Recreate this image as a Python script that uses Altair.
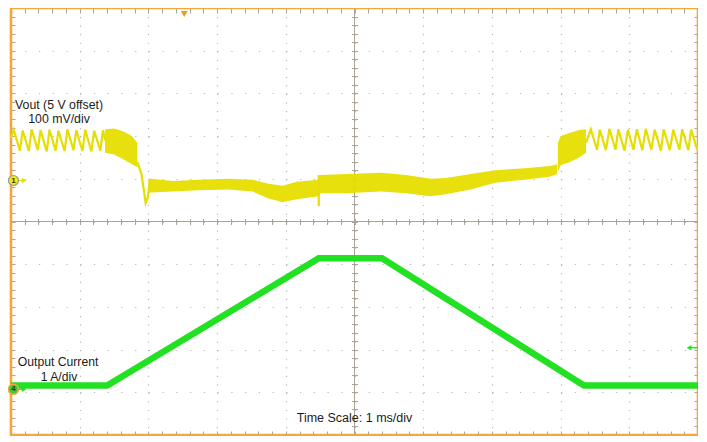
import altair as alt
import pandas as pd

# ------------------------------------------------------------------
# Values
# time in ms (1 ms/div, 0 = screen centre)
# Vout: deviation from the 5 V offset, mV (100 mV/div, ch1 marker at +1 div)
# Iout: amperes (1 A/div, ch4 marker at -4 div)
# ------------------------------------------------------------------
iout_t = [-5.00, -3.60, -0.52, 0.40, 3.34, 5.00]
iout_a = [0.16, 0.16, 3.14, 3.14, 0.16, 0.16]

saw_left_t = [-5.00, -4.96, -4.87, -4.83, -4.74, -4.70, -4.61, -4.57, -4.48, -4.44,
              -4.35, -4.31, -4.22, -4.18, -4.09, -4.05, -3.96, -3.92, -3.83, -3.79,
              -3.70, -3.66, -3.63]
saw_left_mv = [95, 115, 66, 113, 65, 116, 67, 114, 64, 115,
               66, 113, 65, 116, 67, 114, 65, 115, 64, 113,
               66, 114, 90]

dense_left_t = [-3.63, -3.50, -3.36, -3.24, -3.16]
dense_left_hi = [116, 118, 111, 100, 84]
dense_left_lo = [61, 57, 45, 34, 27]

drop_t = [-3.16, -3.10, -3.04, -3.01, -2.98, -2.95]
drop_mv = [39, 11, -57, -45, -7, -18]

band_t = [-3.00, -2.97, -2.64, -2.28, -1.84, -1.48, -1.27, -1.05, -0.84, -0.53, -0.50,
          -0.12, 0.39, 0.75, 1.11, 1.33, 1.69, 2.05, 2.48, 2.84, 2.95]
band_hi = [-2, 0, -5, -2, 0, -2, -11, -16, -7, -2, 9,
           11, 14, 9, 0, 2, 11, 20, 25, 30, 34]
band_lo = [-34, -32, -30, -27, -25, -30, -45, -55, -48, -41, -34,
           -34, -30, -34, -41, -36, -25, -9, -2, 5, 11]

spike_t = [-0.52, -0.52]
spike_mv = [9, -64]

dense_right_t = [2.96, 3.00, 3.13, 3.27, 3.37]
dense_right_hi = [84, 100, 107, 114, 116]
dense_right_lo = [16, 32, 39, 50, 61]

saw_right_t = [3.37, 3.44, 3.53, 3.57, 3.66, 3.71, 3.80, 3.84, 3.93, 3.98, 4.06, 4.11,
               4.19, 4.24, 4.32, 4.37, 4.46, 4.50, 4.59, 4.64, 4.73, 4.77, 4.86, 4.90,
               4.99, 5.00]
saw_right_mv = [85, 116, 68, 115, 67, 117, 68, 116, 66, 115, 68, 116,
                67, 117, 68, 115, 66, 116, 67, 115, 68, 116, 67, 115,
                68, 80]

CH1_POS = 1.0     # divisions
CH4_POS = -4.0
MV_PER_DIV = 100.0
A_PER_DIV = 1.0

# ------------------------------------------------------------------
ORANGE = "#F4A63A"
YELLOW = "#E6DE00"
GREEN = "#22E022"
GRID = "#B8B8B8"
TICK = "#A6A6A6"
CROSS = "#ABA598"
FONT = "Liberation Sans"

W, H = 687, 427
XS = alt.Scale(domain=[-5, 5], nice=False, zero=False)
YS = alt.Scale(domain=[-5, 5], nice=False, zero=False)

minor_x = [round(-5 + 0.2 * i, 1) for i in range(51)]
minor_y = [round(-5 + 0.2 * i, 1) for i in range(51)]
major = list(range(-4, 5))

px_x = W / 50   # minor division, pixels
px_y = H / 50


def axis(**kw):
    base = dict(labels=False, domain=False, ticks=False, grid=False, tickColor=TICK, tickWidth=1)
    base.update(kw)
    return alt.Axis(**base)


grid_x = axis(orient="bottom", values=major, grid=True, gridColor=GRID, gridWidth=1.2,
              gridDash=[1.2, px_y - 1.2])
grid_y = axis(orient="left", values=major, grid=True, gridColor=GRID, gridWidth=1.2,
              gridDash=[1.2, px_x - 1.2])
top_ticks = axis(orient="top", values=minor_x, ticks=True, tickSize=5, offset=-5)
bot_ticks = axis(orient="bottom", values=minor_x, ticks=True, tickSize=4, offset=-4)
left_ticks = axis(orient="left", values=minor_y, ticks=True, tickSize=4, offset=-4)
right_ticks = axis(orient="right", values=minor_y, ticks=True, tickSize=4, offset=-4)
cx_ticks = axis(orient="bottom", values=minor_x, ticks=True, tickSize=6, tickColor=CROSS,
                offset=-(H / 2 + 3))
cy_ticks = axis(orient="left", values=minor_y, ticks=True, tickSize=6, tickColor=CROSS,
                offset=-(W / 2 + 3))

# ------------------------------------------------------------------
def seg(name, t, mv):
    return pd.DataFrame({"seg": name, "i": range(len(t)), "t": t, "mv": mv})


lines_df = pd.concat([
    seg("left", saw_left_t, saw_left_mv),
    seg("drop", drop_t, drop_mv),
    seg("spike", spike_t, spike_mv),
    seg("right", saw_right_t, saw_right_mv),
], ignore_index=True)

areas_df = pd.concat([
    pd.DataFrame({"seg": "band", "t": band_t, "hi": band_hi, "lo": band_lo}),
    pd.DataFrame({"seg": "dl", "t": dense_left_t, "hi": dense_left_hi, "lo": dense_left_lo}),
    pd.DataFrame({"seg": "dr", "t": dense_right_t, "hi": dense_right_hi, "lo": dense_right_lo}),
], ignore_index=True)

iout_df = pd.DataFrame({"t": iout_t, "a": iout_a})
one = pd.DataFrame({"k": [0]})


def X(ax):
    return alt.X("t:Q", scale=XS, axis=ax, title=None)


def XD(v):
    return alt.XDatum(v, scale=XS, axis=None)


def YD(v):
    return alt.YDatum(v, scale=YS, axis=None)


# centre cross
vrule = alt.Chart(one).mark_rule(color=CROSS, strokeWidth=1).encode(
    x=alt.X("k:Q", scale=XS, axis=cx_ticks, title=None))
hrule = alt.Chart(one).mark_rule(color=CROSS, strokeWidth=1).encode(
    y=alt.Y("k:Q", scale=YS, axis=cy_ticks, title=None))

frame = alt.Chart(one).mark_rect(fillOpacity=0, stroke=ORANGE, strokeWidth=2.6).encode(
    x=XD(-5), x2=alt.X2Datum(5), y=YD(-5), y2=alt.Y2Datum(5))

areas = alt.Chart(areas_df).transform_calculate(
    d_hi=f"{CH1_POS} + datum.hi / {MV_PER_DIV}",
    d_lo=f"{CH1_POS} + datum.lo / {MV_PER_DIV}",
).mark_area(color=YELLOW, opacity=0.95).encode(
    x=X(grid_x),
    y=alt.Y("d_hi:Q", scale=YS, axis=grid_y, title=None),
    y2="d_lo:Q",
    detail="seg:N",
)

vlines = alt.Chart(lines_df).transform_calculate(
    d=f"{CH1_POS} + datum.mv / {MV_PER_DIV}"
).mark_line(color=YELLOW, strokeWidth=2.2, strokeJoin="miter").encode(
    x=X(top_ticks),
    y=alt.Y("d:Q", scale=YS, axis=left_ticks, title=None),
    detail="seg:N",
    order="i:Q",
)

iline = alt.Chart(iout_df).transform_calculate(
    d=f"{CH4_POS} + datum.a / {A_PER_DIV}"
).mark_line(color=GREEN, strokeWidth=6.5).encode(
    x=X(bot_ticks),
    y=alt.Y("d:Q", scale=YS, axis=right_ticks, title=None),
)


def point(t, d, **mk):
    return alt.Chart(one).mark_point(opacity=1, **mk).encode(x=XD(t), y=YD(d))


def text(t, d, s, **mk):
    base = dict(font=FONT, fontSize=12.3, color="#1c1c1c", align="center", baseline="alphabetic")
    base.update(mk)
    return alt.Chart(one).mark_text(text=s, **base).encode(x=XD(t), y=YD(d))


def seg_rule(t1, t2, d, color, w=1.2):
    return alt.Chart(one).mark_rule(color=color, strokeWidth=w).encode(
        x=XD(t1), x2=alt.X2Datum(t2), y=YD(d))


markers = [
    # channel 1 marker
    seg_rule(-4.96, -4.84, 0.96, YELLOW),
    point(-4.81, 0.96, shape="triangle-right", filled=True, fill=YELLOW, size=28, strokeWidth=0),
    point(-4.964, 0.96, shape="circle", filled=True, fill="#F5EA10", stroke="#9A9A9A",
          strokeWidth=1.2, size=100),
    text(-4.964, 0.96, "1", fontSize=8, fontWeight="bold", baseline="middle", color="#333"),
    # channel 4 marker
    seg_rule(-4.96, -4.84, -3.93, GREEN),
    point(-4.81, -3.93, shape="triangle-right", filled=True, fill=GREEN, size=28, strokeWidth=0),
    point(-4.964, -3.93, shape="circle", filled=True, fill="#2ED42E", stroke=ORANGE,
          strokeWidth=1.5, size=100),
    text(-4.964, -3.93, "4", fontSize=8, fontWeight="bold", baseline="middle", color="#333"),
    # trigger position (top) and trigger level (right)
    point(-2.478, 4.86, shape="triangle-down", filled=True, fill="#F39A1C", size=45, strokeWidth=0),
    seg_rule(4.88, 5.0, -2.955, GREEN, 1.5),
    point(4.87, -2.955, shape="triangle-left", filled=True, fill=GREEN, size=30, strokeWidth=0),
]

texts = [
    text(-4.301, 2.64, "Vout (5 V offset)"),
    text(-4.301, 2.31, "100 mV/div"),
    text(-4.315, -3.386, "Output Current", fontSize=12.2),
    text(-4.301, -3.727, "1 A/div", fontSize=12.2),
    text(0.0, -4.705, "Time Scale: 1 ms/div", fontSize=12.5),
]

chart = alt.layer(
    vrule, hrule, frame, areas, vlines, iline, *markers, *texts
).resolve_axis(
    x="independent", y="independent"
).properties(
    width=W, height=H,
    autosize=alt.AutoSizeParams(type="none"),
    padding={"left": 3, "top": 0, "right": 0, "bottom": 1},
).configure_view(
    strokeWidth=0, fill="white"
).configure(background="white")

chart.save("out.html", embed_options={"renderer": "svg", "actions": False})
